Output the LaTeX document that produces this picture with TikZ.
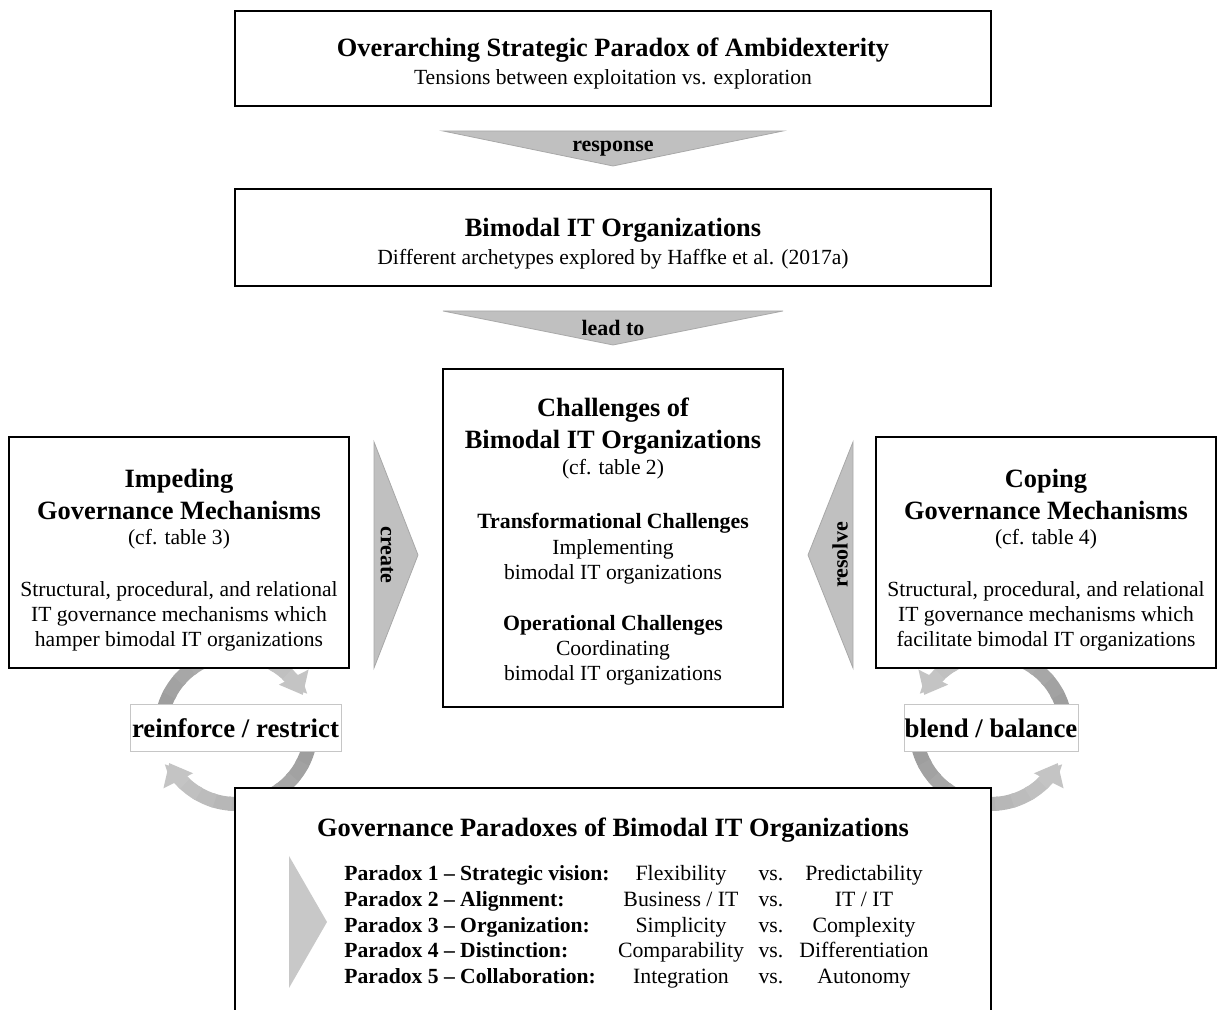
\documentclass[tikz,border=0pt]{standalone}
\usepackage{fontspec}
\setmainfont{Liberation Serif}
\usetikzlibrary{arrows.meta,calc}
\definecolor{flowgray}{HTML}{C0C0C0}
\definecolor{flowedge}{HTML}{A8A8A8}
\definecolor{cycdark}{HTML}{9A9A9A}
\definecolor{cyclight}{HTML}{C4C4C4}
\definecolor{tipgray}{HTML}{C8C8C8}
\tikzset{
  box/.style={draw, line width=1pt, fill=white, inner sep=0pt},
  tagbox/.style={draw=gray!45, line width=0.5pt, fill=white, inner sep=0pt,
    font=\bfseries\fontsize{13.4}{15}\selectfont},
  head/.style={font=\bfseries\fontsize{13.2}{16}\selectfont, align=center, inner sep=0pt},
  subhead/.style={font=\bfseries\fontsize{10.9}{12.5}\selectfont, align=center, inner sep=0pt},
  txt/.style={font=\fontsize{10.8}{12.5}\selectfont, align=center, inner sep=0pt},
  flow/.style={fill=flowgray, draw=flowedge, line width=0.4pt},
  flowlbl/.style={font=\bfseries\fontsize{11}{12}\selectfont, inner sep=0pt},
  cycbody/.style={line width=7pt},
  cyctip/.style={draw=cyclight, line width=7pt, -{Triangle[width=16pt,length=10pt]}},
  prow/.style={font=\fontsize{10.9}{12}\selectfont, inner sep=0pt, text height=7.5pt, text depth=2.5pt}
}
% shaded turning arrow: centre, start angle, end angle
\newcommand\gradarc[3]{%
  \pgfmathsetmacro\midang{#3-20*sign(#3-#2)}
  \foreach \k in {0,...,9}{
    \pgfmathsetmacro\aa{#2+(\midang-#2)*\k/10}
    \pgfmathsetmacro\bb{#2+(\midang-#2)*(\k+1.2)/10}
    \pgfmathtruncatemacro\mix{100-\k*10}
    \colorlet{segc}{cycdark!\mix!cyclight}
    \draw[cycbody, segc] (#1) ++(\aa:37.5pt) arc[start angle=\aa, end angle=\bb, radius=37.5pt];
  }
  \draw[cyctip] (#1) ++(\midang:37.5pt) arc[start angle=\midang, end angle=#3, radius=37.5pt];
}
\begin{document}
\begin{tikzpicture}[x=0.5pt,y=0.5pt]
\path[use as bounding box, clip] (0,0) rectangle (1217,1010);

% cycles behind the boxes
\coordinate (lc) at (236,281);
\coordinate (rc) at (991,281);
\gradarc{lc}{180}{27}
\gradarc{lc}{0}{-153}
\gradarc{rc}{0}{153}
\gradarc{rc}{180}{333}

% boxes
\node[box, minimum width=378pt, minimum height=47.5pt] (amb) at (613,951.5) {};
\node[box, minimum width=378pt, minimum height=48.5pt] (bim) at (613,772.5) {};
\node[box, minimum width=170pt, minimum height=169pt] (chal) at (613,472) {};
\node[box, minimum width=170pt, minimum height=115.5pt] (imp) at (179,457.5) {};
\node[box, minimum width=170pt, minimum height=115.5pt] (cop) at (1046,457.5) {};
\node[box, minimum width=378pt, minimum height=126pt] (gov) at (613,96) {};

\node[tagbox, minimum width=105.5pt, minimum height=23.5pt] (rr) at (235.5,281.5) {reinforce / restrict};
\node[tagbox, minimum width=87pt, minimum height=23.5pt] (bb) at (991,281.5) {blend / balance};

% top box
\node[head] (ambT) at (613,960) {Overarching Strategic Paradox of Ambidexterity};
\node[txt] (ambS) at (613,931) {Tensions between exploitation vs. exploration};

\path[flow] ($(amb.south)+(-170,-24)$) -- ++(340,0) -- ($(bim.north)+(0,22)$) -- cycle;
\node[flowlbl] (resp) at (613,861) {response};

\node[head] (bimT) at (613,780) {Bimodal IT Organizations};
\node[txt] (bimS) at (613,751) {Different archetypes explored by Haffke et al. (2017a)};

\path[flow] ($(bim.south)+(-170,-24)$) -- ++(340,0) -- ($(chal.north)+(0,23)$) -- cycle;
\node[flowlbl] (lead) at (613,682) {lead to};

% challenges
\node[head] (chalT) at (613,583.5) {Challenges of\\Bimodal IT Organizations};
\node[txt] (chalR) at (613,541) {(cf. table 2)};
\node[subhead] (trT) at (613,487) {Transformational Challenges};
\node[txt] (trS) at (613,448.5) {Implementing\\bimodal IT organizations};
\node[subhead] (opT) at (613,385) {Operational Challenges};
\node[txt] (opS) at (613,347.5) {Coordinating\\bimodal IT organizations};

% impeding
\node[head] (impT) at (179,516) {Impeding\\Governance Mechanisms};
\node[txt] (impR) at (179,471) {(cf. table 3)};
\node[txt] (impS) at (179,393.5) {Structural, procedural, and relational\\IT governance mechanisms which\\hamper bimodal IT organizations};

% coping
\node[head] (copT) at (1046,516) {Coping\\Governance Mechanisms};
\node[txt] (copR) at (1046,471) {(cf. table 4)};
\node[txt] (copS) at (1046,393.5) {Structural, procedural, and relational\\IT governance mechanisms which\\facilitate bimodal IT organizations};

\path[flow] ($(imp.east)+(24,110.5)$) -- ($(imp.east)+(24,-115.5)$) -- ($(chal.west)+(-24,-17)$) -- cycle;
\node[flowlbl, rotate=-90] (crt) at (387,455) {create};
\path[flow] ($(cop.west)+(-22,110.5)$) -- ($(cop.west)+(-22,-115.5)$) -- ($(chal.east)+(24,-17)$) -- cycle;
\node[flowlbl, rotate=90] (rsv) at (840,455) {resolve};

% paradoxes
\node[head] (govT) at (613,180) {Governance Paradoxes of Bimodal IT Organizations};
\fill[tipgray] (289,154) -- (289,22) -- (327,88) -- cycle;
\foreach \lab/\lft/\rgt [count=\n] in {
  {Paradox 1 -- Strategic vision:}/Flexibility/Predictability,
  {Paradox 2 -- Alignment:}/{Business / IT}/{IT / IT},
  {Paradox 3 -- Organization:}/Simplicity/Complexity,
  {Paradox 4 -- Distinction:}/Comparability/Differentiation,
  {Paradox 5 -- Collaboration:}/Integration/Autonomy}{
  \node[prow, font=\bfseries\fontsize{10.8}{12}\selectfont, anchor=west] (p\n) at (344,160-25.75*\n) {\lab};
  \node[prow] (l\n) at (681,160-25.75*\n) {\lft};
  \node[prow] (v\n) at (771,160-25.75*\n) {vs.};
  \node[prow] (r\n) at (864,160-25.75*\n) {\rgt};
}
\end{tikzpicture}
\end{document}
